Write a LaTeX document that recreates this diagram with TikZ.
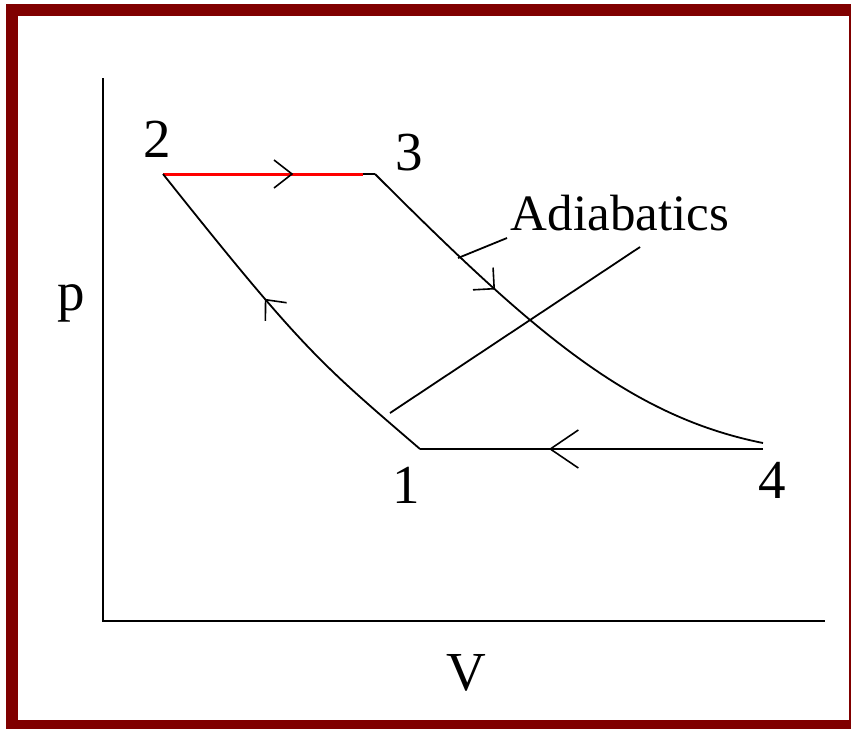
\documentclass[tikz,border=0pt]{standalone}
\usepackage{fontspec}
\setmainfont{Liberation Serif}
\usetikzlibrary{decorations.markings}
\definecolor{framered}{RGB}{128,0,0}
\begin{document}
\begin{tikzpicture}[x=1pt,y=-1pt,
  curve/.style={line width=1.8pt, black},
  lbl/.style={anchor=base, inner sep=0pt, font=\fontsize{55}{60}\selectfont},
  barb/.style args={#1:#2:#3}{postaction={decorate},decoration={markings,mark=at position #1 with {\draw[black,line width=1.6pt] (-#2pt,#3pt) -- (0pt,0pt) -- (-#2pt,-#3pt);}}},
]
\useasboundingbox (0,0) rectangle (851,729);
\fill[framered] (6,4) rectangle (851,729);
\fill[white] (18,16) rectangle (849,720);

% axes
\coordinate (ytop) at (103,78);
\coordinate (org) at (103,621);
\coordinate (xend) at (825,621);
\draw[line width=2pt] (ytop) -- (org) -- (xend);

% cycle points
\coordinate (P2) at (163,174);
\coordinate (R3) at (363,174);
\coordinate (P3) at (375,174);
\coordinate (P1) at (420,449);
\coordinate (P4) at (763,449);
\coordinate (P4c) at (763,443);

\draw[curve] (R3) -- (P3);
\draw[red, line width=3pt, barb=0.645:18:14] (P2) -- (R3);
\draw[curve, barb=0.57:16:14] (P1) .. controls (320,363) and (303,350) .. (P2);
\draw[curve, barb=0.345:15:15] (P3) .. controls (531,330) and (628,416) .. (P4c);
\draw[line width=2.2pt, barb=0.62:28:19] (P4) -- (P1);

% leaders
\coordinate (LA1) at (458,258);
\coordinate (LA2) at (507,238);
\coordinate (LB1) at (390,413);
\coordinate (LB2) at (640,247);
\draw[curve] (LA1) -- (LA2);
\draw[curve] (LB1) -- (LB2);

% labels
\node[lbl] (l2) at (157,157) {2};
\node[lbl] (l3) at (409,170) {3};
\node[lbl] (l1) at (406,503) {1};
\node[lbl] (l4) at (772,498) {4};
\node[lbl] (lp) at (71,310) {p};
\node[lbl] (lV) at (466,690) {V};
\node[lbl, font=\fontsize{51}{56}\selectfont] (lad) at (620,230) {Adiabatics};
\end{tikzpicture}
\end{document}
